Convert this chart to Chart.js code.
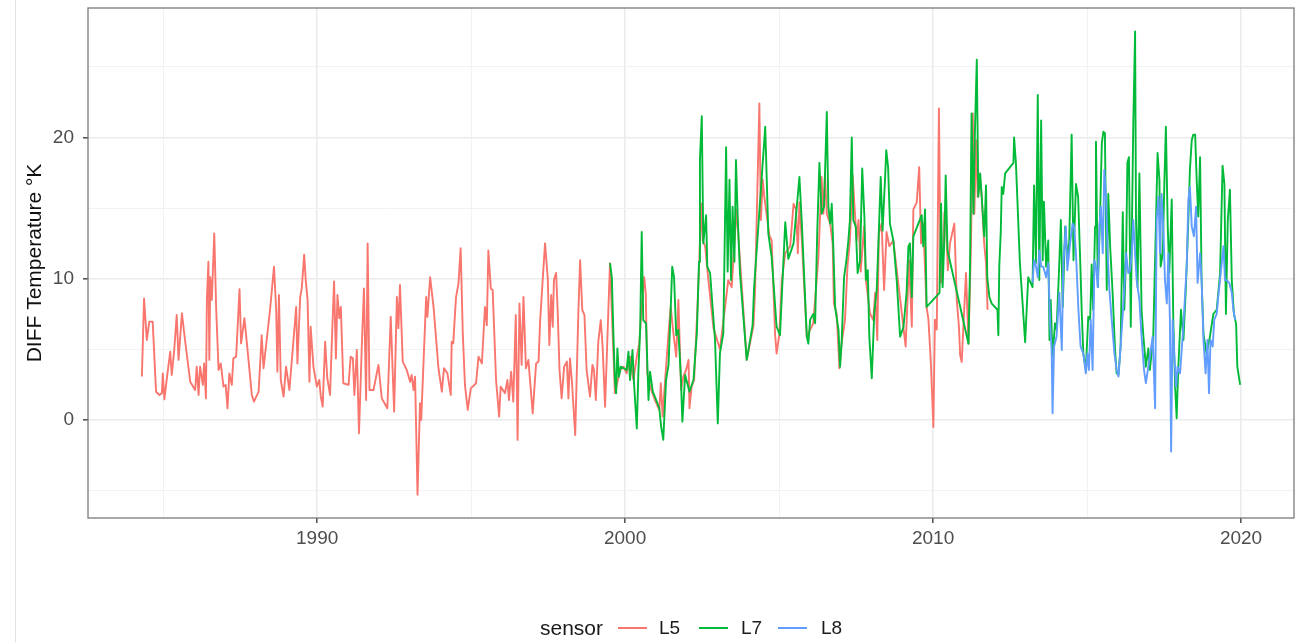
<!DOCTYPE html>
<html>
<head>
<meta charset="utf-8">
<script src="https://cdn.jsdelivr.net/npm/chart.js@4.4.1/dist/chart.umd.min.js"></script>
<style>
  html, body { margin: 0; padding: 0; background: #fff; }
  #wrap { position: relative; width: 1309px; height: 642px; overflow: hidden; }
  #edge { position: absolute; left: 15px; top: 0; width: 1px; height: 642px; background: #e2e2e2; }
  .lg { position: absolute; top: 628px; transform: translateY(-50%); font-family: "Liberation Sans", Arial, sans-serif; color: #1a1a1a; white-space: nowrap; }
  .key { position: absolute; top: 627px; height: 2px; }
</style>
</head>
<body>
<div id="wrap">
  <div id="edge"></div>
  <canvas id="myChart" width="1309" height="642"></canvas>
  <span class="lg" style="left:540px;font-size:21px">sensor</span>
  <div class="key" style="left:618px;width:29px;background:#F8766D"></div>
  <span class="lg" style="left:659px;font-size:19px">L5</span>
  <div class="key" style="left:699px;width:29px;background:#00BA38"></div>
  <span class="lg" style="left:741px;font-size:19px">L7</span>
  <div class="key" style="left:778px;width:29px;background:#619CFF"></div>
  <span class="lg" style="left:821px;font-size:19px">L8</span>
</div>
<script>
// sensor L5
var l5Years = [
  1984.31,1984.38,1984.47,1984.55,1984.66,1984.77,1984.88,1984.96,1984.99,1985.04,1985.12,1985.23,1985.28,1985.36,1985.44,1985.50,1985.61,1985.71,1985.88,
  1986.04,1986.09,1986.15,1986.20,1986.29,1986.33,1986.39,1986.42,1986.47,1986.50,1986.53,1986.58,1986.66,1986.72,1986.80,1986.87,1986.96,
  1987.03,1987.09,1987.15,1987.23,1987.28,1987.37,1987.48,1987.53,1987.64,1987.72,1987.88,1987.95,1988.10,1988.20,1988.26,1988.47,1988.60,1988.67,1988.71,1988.76,1988.82,1988.91,1988.99,
  1989.10,1989.32,1989.36,1989.45,1989.50,1989.58,1989.63,1989.69,1989.75,1989.79,1989.88,1989.99,1990.07,1990.12,1990.18,1990.26,1990.33,1990.42,1990.48,1990.55,1990.61,1990.66,1990.72,1990.77,1990.85,
  1991.02,1991.09,1991.16,1991.21,1991.29,1991.36,1991.45,1991.52,1991.59,1991.64,1991.70,1991.83,1991.99,1992.10,1992.28,1992.39,1992.50,1992.59,1992.64,1992.69,1992.78,1992.91,
  1993.02,1993.07,1993.13,1993.18,1993.26,1993.34,1993.38,1993.54,1993.58,1993.67,1993.78,1993.94,1994.05,1994.12,1994.23,1994.34,1994.37,1994.42,1994.51,1994.59,1994.66,1994.73,1994.80,1994.89,1994.99,
  1995.16,1995.24,1995.35,1995.45,1995.51,1995.56,1995.64,1995.70,1995.81,1995.91,1995.96,1996.10,1996.18,1996.23,1996.30,1996.37,1996.45,1996.51,1996.57,1996.64,1996.70,1996.78,1996.86,
  1997.00,1997.11,1997.19,1997.24,1997.33,1997.40,1997.49,1997.54,1997.60,1997.65,1997.69,1997.76,1997.81,1997.87,1997.94,1998.02,1998.11,1998.16,1998.21,1998.27,1998.38,1998.48,1998.54,1998.61,1998.68,1998.75,1998.86,1998.94,1998.99,
  1999.05,1999.13,1999.21,1999.27,1999.35,1999.46,1999.51,1999.67,1999.84,1999.95,2000.05,2000.16,2000.27,2000.38,2000.46,2000.54,2000.62,2000.67,2000.72,2000.81,2000.97,
  2001.11,2001.16,2001.22,2001.30,2001.41,2001.48,2001.57,2001.66,2001.73,2001.82,2001.89,2001.98,2002.06,2002.09,2002.16,2002.24,2002.35,2002.41,2002.47,2002.52,2002.60,2002.70,2002.87,
  2003.08,2003.35,2003.46,2003.62,2003.95,2004.17,2004.22,2004.36,2004.41,2004.47,2004.52,2004.69,2004.76,2004.87,2004.92,2005.01,2005.09,2005.20,2005.36,2005.47,2005.55,2005.61,2005.66,2005.74,2005.90,
  2006.11,2006.28,2006.38,2006.44,2006.49,2006.55,2006.66,2006.74,2006.78,2006.87,2006.96,2007.03,2007.14,2007.22,2007.30,2007.39,2007.47,2007.52,2007.58,2007.65,2007.76,2007.82,2007.95,
  2008.06,2008.12,2008.19,2008.24,2008.33,2008.41,2008.49,2008.58,2008.71,2009.11,2009.22,2009.31,2009.36,2009.47,2009.55,2009.61,2009.68,2009.79,2009.85,2009.93,
  2010.01,2010.06,2010.12,2010.19,2010.25,2010.31,2010.37,2010.42,2010.48,2010.55,2010.64,2010.69,2010.77,2010.84,2010.88,2010.93,2010.98,
  2011.07,2011.15,2011.23,2011.29,2011.34,2011.40,2011.45,2011.53,2011.58,2011.66,2011.72,2011.77
];
var l5Values = [
  3.07,8.6,5.66,6.96,6.96,2.0,1.77,1.9,3.3,1.46,2.95,4.83,3.18,4.95,7.43,4.25,7.55,5.66,2.7,
  2.12,3.77,1.77,3.77,2.48,4.0,1.53,8.5,11.2,4.25,10.1,8.5,13.2,8.0,3.54,4.0,2.36,
  2.48,0.83,3.3,2.48,4.36,4.48,9.25,5.42,7.2,5.42,1.77,1.3,2.0,6.0,3.66,7.78,10.85,7.78,3.42,8.84,2.83,1.65,3.77,
  2.12,8.0,4.0,8.7,9.3,11.7,9.9,8.5,2.7,6.6,3.77,2.36,2.83,1.65,0.94,5.54,2.95,1.77,5.66,9.8,4.36,8.84,7.2,8.0,2.6,
  2.48,4.48,4.36,1.77,4.95,-0.94,5.19,9.3,1.41,12.5,2.12,2.12,3.9,1.53,0.83,7.3,0.59,8.7,6.49,9.55,4.13,3.54,
  2.7,3.18,2.12,3.07,-5.3,1.18,0.0,8.7,7.3,10.1,8.0,3.66,2.0,3.66,3.3,1.77,5.54,5.42,8.7,9.67,12.15,6.1,2.48,0.71,2.24,
  2.6,4.48,4.0,8.0,6.7,12.0,9.3,9.2,2.83,0.24,2.36,1.9,2.83,1.41,3.42,1.3,7.43,-1.41,8.25,3.9,8.7,3.66,4.25,
  0.47,4.0,4.13,6.96,10.1,12.5,10.0,5.3,8.84,6.6,9.9,10.4,7.78,3.54,1.53,3.77,4.13,1.53,4.36,2.83,-1.06,7.43,11.3,7.78,7.43,3.54,1.65,3.9,3.54,
  1.41,5.54,7.07,5.19,0.94,8.0,11.1,1.9,3.54,3.77,3.3,4.48,2.83,4.48,5.42,8.0,10.1,8.96,3.3,2.36,1.41,
  0.7,2.6,0.24,2.83,6.13,8.0,6.13,4.48,8.5,2.12,3.07,3.54,4.25,0.83,2.36,2.83,8.0,11.3,15.3,12.7,12.3,10.0,6.5,
  5.0,9.9,9.4,14.9,4.25,6.7,9.2,22.4,14.15,17.0,15.8,13.0,12.7,6.1,4.7,6.1,9.9,11.8,12.3,15.3,14.9,11.8,15.4,12.7,5.9,
  6.84,11.6,17.2,14.6,17.45,14.6,13.9,12.5,8.25,7.5,3.66,5.42,7.07,10.85,12.7,17.3,14.4,12.7,14.15,10.5,13.7,9.9,7.55,
  7.07,9.0,5.66,13.2,13.9,9.2,13.3,12.3,12.7,5.2,11.3,6.6,14.9,15.4,17.9,12.5,13.9,8.0,7.1,4.0,
  -0.5,7.1,6.4,22.05,9.7,10.4,14.7,13.9,10.6,12.5,13.4,13.9,8.5,6.6,4.6,4.1,6.4,
  10.4,5.4,12.3,21.7,14.6,19.8,15.8,17.0,15.8,12.5,11.1,7.8
];

// sensor L7
var l7Years = [
  1999.51,1999.57,1999.62,1999.67,1999.71,1999.75,1999.80,1999.86,1999.95,2000.05,2000.11,2000.16,2000.24,2000.29,2000.38,2000.43,2000.49,2000.54,2000.59,2000.68,2000.76,2000.81,2000.90,
  2001.03,2001.11,2001.17,2001.24,2001.33,2001.41,2001.48,2001.53,2001.59,2001.66,2001.73,2001.81,2001.86,2001.95,2002.09,2002.22,2002.33,2002.40,2002.43,2002.49,2002.54,2002.63,2002.67,2002.76,2002.92,
  2003.01,2003.08,2003.19,2003.28,2003.33,2003.39,2003.44,2003.49,2003.55,2003.60,2003.66,2003.73,2003.95,2004.14,2004.19,2004.55,2004.65,2004.76,2004.92,
  2005.03,2005.20,2005.30,2005.47,2005.66,2005.74,2005.90,2005.95,2006.01,2006.11,2006.17,2006.24,2006.31,2006.38,2006.46,2006.55,2006.60,2006.66,2006.71,2006.76,2006.82,2006.93,2006.98,
  2007.03,2007.11,2007.18,2007.25,2007.30,2007.36,2007.41,2007.49,2007.55,2007.63,2007.70,2007.77,2007.82,2007.88,2007.93,2008.01,2008.09,2008.17,2008.24,2008.30,2008.36,2008.44,2008.48,2008.54,2008.60,2008.71,2008.82,2008.93,
  2009.04,2009.14,2009.20,2009.25,2009.31,2009.36,2009.63,2009.68,2009.74,2009.79,2010.21,2010.26,2010.31,2010.37,2010.41,2010.47,
  2011.15,2011.20,2011.25,2011.31,2011.36,2011.42,2011.47,2011.53,2011.58,2011.66,2011.72,2011.76,2011.83,2011.90,2012.09,2012.12,2012.15,2012.20,2012.23,2012.28,2012.34,2012.50,2012.61,2012.63,2012.69,2012.82,2012.99,
  2013.09,2013.17,2013.23,2013.28,2013.34,2013.40,2013.45,2013.51,2013.56,2013.60,2013.67,2013.74,2013.78,2013.82,2013.88,2013.96,2014.01,2014.09,2014.15,2014.21,2014.29,2014.36,2014.42,2014.50,2014.56,2014.64,2014.71,2014.77,2014.83,2014.88,2014.96,
  2015.04,2015.10,2015.15,2015.20,2015.26,2015.29,2015.35,2015.42,2015.48,2015.53,2015.58,2015.64,2015.69,2015.75,2015.83,2015.91,2015.96,2016.02,2016.09,2016.16,2016.21,2016.27,2016.31,2016.36,2016.42,2016.46,2016.50,2016.56,2016.59,2016.64,2016.70,2016.77,2016.83,2016.91,2016.99,
  2017.04,2017.15,2017.24,2017.29,2017.35,2017.39,2017.46,2017.51,2017.56,2017.62,2017.67,2017.75,2017.80,2017.86,2017.91,2017.96,2018.05,2018.13,2018.21,2018.29,2018.34,2018.40,2018.45,2018.51,2018.56,2018.61,2018.67,2018.72,2018.78,2018.88,2018.99,
  2019.10,2019.21,2019.32,2019.40,2019.46,2019.51,2019.57,2019.64,2019.70,2019.77,2019.84,2019.88,2019.97
];
var l7Values = [
  11.1,10.1,6.1,2.83,1.9,5.07,3.07,3.77,3.66,3.54,4.83,2.83,4.95,2.6,-0.6,3.3,6.49,13.3,7.07,6.84,1.41,3.42,2.0,
  1.3,0.83,-0.47,-1.41,2.83,3.9,7.78,10.85,10.1,6.0,6.37,3.07,-0.12,3.18,2.0,2.83,6.13,11.2,18.4,21.5,12.5,14.5,10.85,10.4,5.66,
  -0.24,4.72,6.13,19.3,10.5,17.0,9.9,15.1,11.2,18.4,14.15,10.4,4.25,6.7,9.4,20.75,13.2,11.5,6.6,
  6.0,14.0,11.4,12.5,17.2,13.9,5.9,5.4,7.1,7.5,6.84,13.4,18.2,14.6,15.1,21.8,15.1,13.9,15.3,12.3,8.0,6.37,3.77,
  5.42,10.1,11.2,12.7,14.15,20.0,14.15,13.7,10.4,11.3,17.8,14.4,9.9,10.6,5.9,2.95,7.55,9.2,13.4,17.2,13.4,17.0,19.1,17.9,13.9,12.7,9.9,5.9,
  6.6,9.0,12.3,12.5,8.7,13.0,14.5,12.3,14.9,8.0,9.0,15.3,9.4,13.0,17.3,12.0,
  5.4,10.85,21.7,14.6,20.5,25.5,15.8,17.45,15.8,13.0,16.6,10.1,8.7,8.25,7.8,6.0,10.85,13.4,16.5,16.0,17.45,17.9,18.2,20.0,18.2,11.1,5.5,
  10.1,9.7,9.4,16.6,11.1,23.0,9.9,21.2,11.3,15.45,10.85,12.7,5.66,8.5,4.5,6.84,6.4,10.6,14.15,8.0,13.7,11.6,12.5,20.2,11.3,16.7,15.8,11.8,7.5,4.7,3.54,
  7.3,7.1,11.0,7.8,13.7,19.7,9.4,14.15,19.6,20.4,20.3,9.2,16.0,12.3,9.0,4.95,3.3,3.2,5.2,14.7,7.8,11.8,18.2,18.6,6.6,14.15,20.75,27.5,14.15,9.4,17.45,7.8,5.9,3.77,5.07,
  3.54,5.9,14.15,18.9,17.0,10.85,11.8,16.7,20.75,13.7,10.4,15.6,7.1,2.36,0.12,3.54,7.8,5.66,9.4,14.15,17.7,19.8,20.2,20.2,17.0,14.4,18.6,9.9,6.1,4.7,5.9,
  7.5,7.8,10.4,18.0,16.7,7.5,14.15,16.3,9.9,7.5,6.8,3.77,2.48
];

// sensor L8
var l8Years = [
  2013.23,2013.28,2013.34,2013.40,2013.45,2013.51,2013.58,2013.67,2013.74,2013.80,2013.85,2013.88,2013.93,2014.01,2014.10,2014.18,2014.23,2014.31,2014.36,2014.45,2014.53,2014.58,2014.64,2014.72,2014.79,2014.88,2014.96,
  2015.01,2015.06,2015.12,2015.18,2015.24,2015.29,2015.35,2015.40,2015.45,2015.51,2015.56,2015.62,2015.67,2015.72,2015.80,2015.89,2015.96,2016.02,2016.09,2016.16,2016.21,2016.27,2016.34,2016.40,2016.45,2016.50,2016.56,2016.61,2016.70,2016.77,2016.85,2016.91,2016.99,
  2017.04,2017.13,2017.21,2017.26,2017.32,2017.37,2017.42,2017.48,2017.53,2017.59,2017.64,2017.69,2017.73,2017.78,2017.83,2017.89,2017.94,2018.02,2018.11,2018.18,2018.24,2018.29,2018.34,2018.40,2018.47,2018.54,2018.59,2018.67,2018.72,2018.78,2018.85,2018.91,2018.96,
  2019.01,2019.08,2019.13,2019.21,2019.26,2019.34,2019.43,2019.48,2019.53,2019.62,2019.70,2019.75,2019.81
];
var l8Values = [
  9.7,11.3,10.9,10.1,12.0,10.85,10.85,10.1,11.1,6.84,4.95,0.47,5.2,5.9,9.0,4.95,11.1,13.7,10.6,12.5,13.9,13.7,11.8,7.8,5.2,4.7,3.3,
  4.7,3.54,7.1,3.54,11.3,10.85,9.4,13.7,15.1,11.8,17.7,15.6,11.8,9.4,7.1,4.7,3.54,3.07,5.2,7.5,9.4,11.8,10.4,10.6,11.8,14.15,11.8,9.9,8.5,5.9,3.54,2.6,3.77,
  4.5,5.9,0.83,14.15,15.8,11.8,16.0,13.4,9.9,8.25,11.8,7.1,-2.24,7.1,4.7,2.36,3.77,3.3,6.1,8.7,11.1,15.6,16.5,13.7,13.0,15.1,9.7,11.8,9.9,5.66,3.3,5.66,1.9,
  5.66,5.2,7.1,7.5,8.7,10.4,12.3,9.9,9.9,9.7,9.0,7.8,7.1
];

var yTicks = [-5, 0, 5, 10, 15, 20, 25];
var xTicks = [1985, 1990, 1995, 2000, 2005, 2010, 2015, 2020];

function pairs(xs, ys) {
  return xs.map(function(x, i) { return {x: x, y: ys[i]}; });
}

// ggplot panel border (drawn on top)
var panelBorder = {
  id: 'panelBorder',
  afterDraw: function(chart) {
    var a = chart.chartArea, ctx = chart.ctx;
    ctx.save();
    ctx.strokeStyle = '#7a7a7a';
    ctx.lineWidth = 1.3;
    ctx.strokeRect(a.left, a.top, a.right - a.left, a.bottom - a.top);
    ctx.restore();
  }
};

var font = "'Liberation Sans', Arial, sans-serif";
var ctx = document.getElementById('myChart');

var chart = new Chart(ctx, {
  type: 'line',
  data: {
    datasets: [{
      label: 'L5',
      data: pairs(l5Years, l5Values),
      borderColor: '#F8766D',
      order: 2
    }, {
      label: 'L7',
      data: pairs(l7Years, l7Values),
      borderColor: '#00BA38',
      order: 1
    }, {
      label: 'L8',
      data: pairs(l8Years, l8Values),
      borderColor: '#619CFF',
      order: 0
    }]
  },
  options: {
    responsive: false,
    animation: false,
    devicePixelRatio: 1,
    layout: { padding: { left: 0, top: 8, right: 15, bottom: 0 } },
    elements: {
      point: { radius: 0 },
      line: { borderWidth: 1.9, tension: 0, borderJoinStyle: 'round', fill: false }
    },
    plugins: { legend: { display: false }, tooltip: { enabled: false } },
    scales: {
      x: {
        type: 'linear',
        min: 1982.56,
        max: 2021.72,
        afterBuildTicks: function(s) { s.ticks = xTicks.map(function(v) { return {value: v}; }); },
        afterFit: function(s) { s.height = 124; s.paddingLeft = 0; s.paddingRight = 0; },
        border: { display: false },
        grid: {
          color: function(c) { return c.tick && c.tick.value % 10 === 0 ? '#EBEBEB' : '#F2F2F2'; },
          lineWidth: function(c) { return c.tick && c.tick.value % 10 === 0 ? 1.6 : 1; },
          tickColor: function(c) { return c.tick && c.tick.value % 10 === 0 ? '#555' : 'rgba(0,0,0,0)'; },
          tickLength: 5
        },
        ticks: {
          autoSkip: false,
          maxRotation: 0,
          padding: 4,
          color: '#4D4D4D',
          font: { family: font, size: 19 },
          callback: function(v) { return v % 10 === 0 ? String(v) : ''; }
        }
      },
      y: {
        min: -6.94,
        max: 29.16,
        afterBuildTicks: function(s) { s.ticks = yTicks.map(function(v) { return {value: v}; }); },
        afterFit: function(s) { s.width = 88; s.paddingTop = 0; s.paddingBottom = 0; },
        border: { display: false },
        grid: {
          color: function(c) { return c.tick && c.tick.value % 10 === 0 ? '#EBEBEB' : '#F2F2F2'; },
          lineWidth: function(c) { return c.tick && c.tick.value % 10 === 0 ? 1.6 : 1; },
          tickColor: function(c) { return c.tick && c.tick.value % 10 === 0 ? '#555' : 'rgba(0,0,0,0)'; },
          tickLength: 5
        },
        ticks: {
          padding: 9,
          color: '#4D4D4D',
          font: { family: font, size: 19 },
          callback: function(v) { return v % 10 === 0 ? String(v) : ''; }
        },
        title: {
          display: true,
          text: 'DIFF Temperature °K',
          color: '#111',
          font: { family: font, size: 21 },
          padding: { top: 23, bottom: 0 }
        }
      }
    }
  },
  plugins: [panelBorder]
});
</script>
</body>
</html>
